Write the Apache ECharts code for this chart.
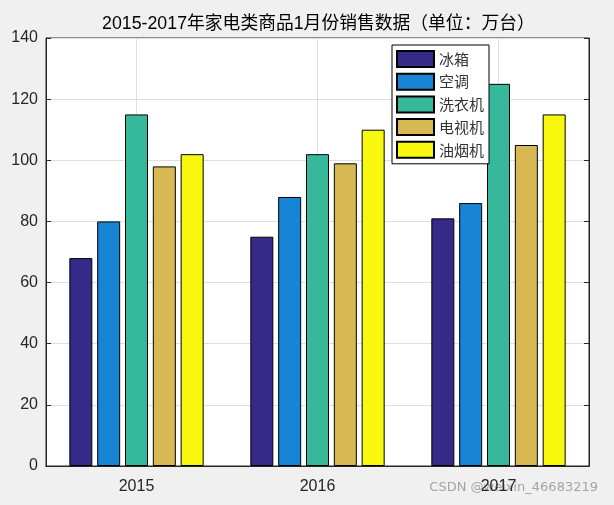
<!DOCTYPE html>
<html><head><meta charset="utf-8">
<script src="https://cdn.jsdelivr.net/npm/echarts@6/dist/echarts.min.js"></script>
<style>html,body{margin:0;padding:0;background:#f0f0f0;}#c{width:614px;height:505px;}</style>
</head><body><div id="c"></div>
<script>
const categories = ['2015', '2016', '2017'];
const seriesNames = ['冰箱', '空调', '洗衣机', '电视机', '油烟机'];
const fridge = [68, 75, 81];
const aircon = [80, 88, 86];
const washer = [115, 102, 125];
const tv = [98, 99, 105];
const hood = [102, 110, 115];
const yTicks = [0, 20, 40, 60, 80, 100, 120, 140];
const colors = ['#352a87', '#1784d6', '#36b89b', '#d8b853', '#f8f80e'];
const values = [fridge, aircon, washer, tv, hood];

const chart = echarts.init(document.getElementById('c'), null, {renderer: 'canvas'});
const axisColor = '#262626';
const gridColor = '#dfdfdf';
const font = '"Liberation Sans", Arial, "Noto Sans CJK SC", sans-serif';

chart.setOption({
  backgroundColor: '#f0f0f0',
  animation: false,
  title: {
    text: '2015-2017年家电类商品1月份销售数据（单位：万台）',
    left: 97, top: 10,
    textStyle: {fontSize: 17.8, fontWeight: 'normal', color: '#000', fontFamily: font}
  },
  grid: {left: 46, right: 25, top: 38, bottom: 39, show: true, backgroundColor: '#fff', borderColor: axisColor, borderWidth: 1},
  legend: {
    orient: 'vertical', left: 392, top: 45,
    data: seriesNames,
    backgroundColor: '#fff', borderColor: '#000', borderWidth: 1,
    padding: [5, 5, 5, 4],
    itemWidth: 37, itemHeight: 16, itemGap: 4.7,
    icon: 'rect',
    textStyle: {fontSize: 15, color: '#333', fontFamily: '"Noto Sans CJK SC", sans-serif'}
  },
  xAxis: [{
    type: 'category', data: categories, position: 'bottom',
    axisLine: {lineStyle: {color: axisColor}},
    axisTick: {inside: true, alignWithLabel: true, length: 5, lineStyle: {color: axisColor}},
    axisLabel: {fontSize: 16, color: axisColor, margin: 13, fontFamily: font},
    splitLine: {show: true, alignWithLabel: true, lineStyle: {color: gridColor}}
  }, {
    type: 'category', data: categories, position: 'top',
    axisLine: {lineStyle: {color: axisColor}},
    axisTick: {inside: true, alignWithLabel: true, length: 5, lineStyle: {color: axisColor}},
    axisLabel: {show: false}, splitLine: {show: false}
  }],
  yAxis: [{
    type: 'value', min: 0, max: 140, interval: 20, position: 'left',
    axisLine: {show: true, lineStyle: {color: axisColor}},
    axisTick: {show: true, inside: true, length: 5, lineStyle: {color: axisColor}},
    axisLabel: {fontSize: 16, color: axisColor, margin: 8, fontFamily: font,
      formatter: v => yTicks.includes(v) ? String(v) : ''},
    splitLine: {show: true, lineStyle: {color: gridColor}}
  }, {
    type: 'value', min: 0, max: 140, interval: 20, position: 'right',
    axisLine: {show: true, lineStyle: {color: axisColor}},
    axisTick: {show: true, inside: true, length: 5, lineStyle: {color: axisColor}},
    axisLabel: {show: false}, splitLine: {show: false}
  }],
  series: seriesNames.map((name, i) => ({
    name, type: 'bar', xAxisIndex: 0, yAxisIndex: 0,
    data: values[i], barWidth: 23, barGap: '21%',
    itemStyle: {color: colors[i], borderColor: '#000', borderWidth: 1}
  })),
  graphic: [{
    type: 'text', right: 16, top: 481,
    style: {text: 'CSDN @weixin_46683219', fontSize: 13, fill: 'rgba(150,150,150,0.85)', fontFamily: '"DejaVu Sans", sans-serif'}
  }]
});
</script></body></html>
